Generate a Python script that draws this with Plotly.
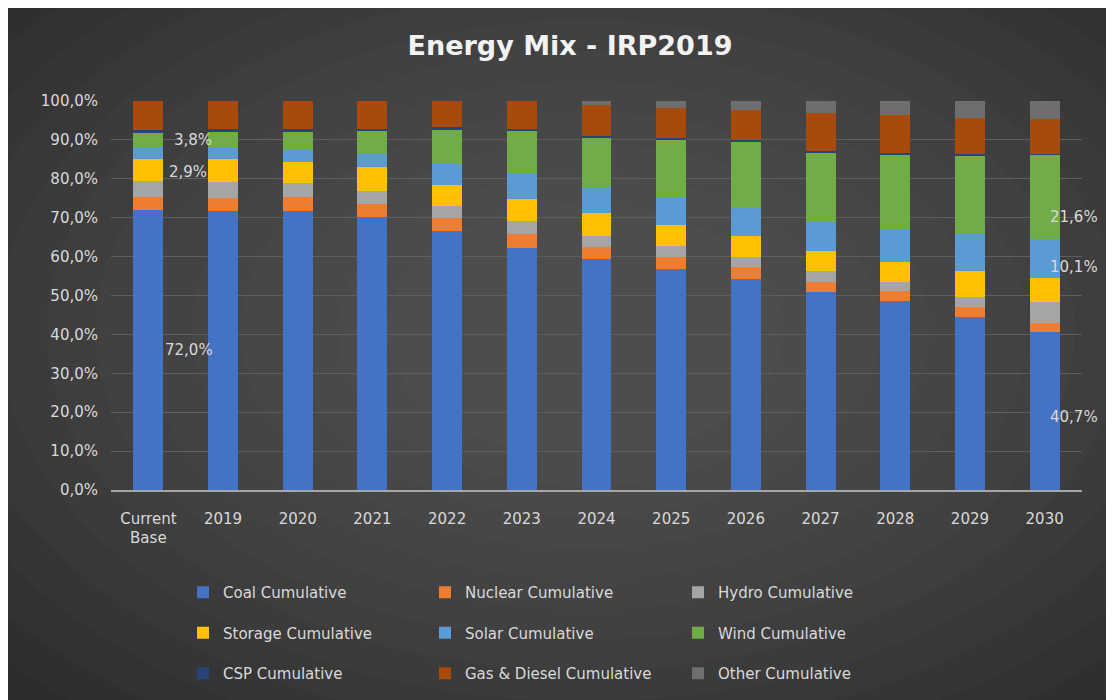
import plotly.graph_objects as go

# ---------------- data (percent of installed capacity) ----------------
categories = ["Current Base", "2019", "2020", "2021", "2022", "2023", "2024",
              "2025", "2026", "2027", "2028", "2029", "2030"]

coal    = [72.0, 71.7, 71.6, 70.2, 66.5, 62.2, 59.5, 56.7, 54.3, 50.9, 48.7, 44.4, 40.7]
nuclear = [3.4, 3.4, 3.6, 3.4, 3.3, 3.5, 2.9, 3.1, 3.1, 2.7, 2.4, 2.6, 2.3]
hydro   = [4.0, 4.1, 3.7, 3.2, 3.3, 3.4, 2.8, 2.9, 2.4, 2.6, 2.5, 2.5, 5.3]
storage = [5.8, 5.8, 5.5, 6.2, 5.3, 5.6, 6.0, 5.4, 5.5, 5.2, 5.0, 6.7, 6.2]
solar   = [2.9, 2.8, 3.1, 3.3, 5.5, 6.8, 6.7, 7.2, 7.3, 7.4, 8.4, 9.5, 10.1]
wind    = [3.8, 4.4, 4.7, 6.0, 8.9, 10.9, 12.7, 14.7, 17.0, 17.9, 19.3, 20.4, 21.6]
csp     = [0.6, 0.5, 0.5, 0.5, 0.4, 0.4, 0.4, 0.4, 0.4, 0.4, 0.3, 0.3, 0.3]
gas     = [7.5, 7.3, 7.3, 7.2, 6.8, 7.2, 8.0, 7.9, 7.6, 9.9, 9.8, 9.3, 8.8]
other   = [0.0, 0.0, 0.0, 0.0, 0.0, 0.0, 1.0, 1.7, 2.4, 3.0, 3.6, 4.3, 4.7]

series_names = ["Coal Cumulative", "Nuclear Cumulative", "Hydro Cumulative",
                "Storage Cumulative", "Solar Cumulative", "Wind Cumulative",
                "CSP Cumulative", "Gas & Diesel Cumulative", "Other Cumulative"]
series_values = [coal, nuclear, hydro, storage, solar, wind, csp, gas, other]
series_colors = ["#4472C4", "#ED7D31", "#A5A5A5", "#FFC000", "#5B9BD5",
                 "#70AD47", "#264478", "#A8490D", "#6E6E6E"]

tick_text = [c.replace(" ", "<br>") for c in categories]

# data labels: (series index, category index, xshift, yshift)
label_specs = [(0, 0, 15, 0), (4, 0, 19, -19), (5, 0, 24, 0),
               (0, 12, 3, -6), (4, 12, 3, -9), (5, 12, 3, -20)]

# ---------------- layout geometry ----------------
# the page body adds an 8px white margin at top/left
OFF = 8
W, H = 1114 - OFF, 700 - OFF
L, R, T, B = 111 - OFF, 32, 101 - OFF, 210
PW, PH = W - L - R, H - T - B


def px_x(px):  # page pixel -> paper x
    return (px - OFF - L) / PW


def px_y(py):  # page pixel -> paper y
    return (H - B - (py - OFF)) / PH


FONT = "DejaVu Sans"
TXT = "#D9D9D9"

fig = go.Figure()
legends = ["legend", "legend2", "legend3"]
for i, (name, vals, col) in enumerate(zip(series_names, series_values, series_colors)):
    fig.add_trace(go.Bar(
        x=categories, y=[v / 100 for v in vals], name=name,
        marker=dict(color=col, line=dict(width=0)),
        legend=legends[i % 3], legendgroup=name,
        hovertemplate="%{x}: %{y:.1%}<extra>" + name + "</extra>",
    ))

# data label annotations (x given as category index)
for s, c, xs, ys in label_specs:
    below = sum(series_values[k][c] for k in range(s))
    v = series_values[s][c]
    mid = (below + v / 2) / 100
    fig.add_annotation(
        x=c, y=mid, xref="x", yref="y",
        text=f"{v:.1f}".replace(".", ",") + "%",
        showarrow=False, xanchor="left", yanchor="middle",
        xshift=xs, yshift=ys,
        font=dict(family=FONT, size=15, color=TXT),
    )

# background: dark panel with radial lightening
shapes = [dict(type="rect", xref="paper", yref="paper", layer="below",
               x0=px_x(OFF - 2), x1=px_x(1120), y0=px_y(OFF - 2), y1=px_y(710),
               fillcolor="#292929", line=dict(width=0))]
cx, cy = 585, 330
n = 14
for k in range(n):
    f = 1 - k / n
    rx, ry = 150 + 680 * f, 95 + 430 * f
    shapes.append(dict(type="circle", xref="paper", yref="paper", layer="below",
                       x0=px_x(cx - rx), x1=px_x(cx + rx),
                       y0=px_y(cy + ry), y1=px_y(cy - ry),
                       fillcolor="rgba(255,255,255,0.014)", line=dict(width=0)))

legend_common = dict(orientation="v", yanchor="top", xanchor="left",
                     y=px_y(576), bgcolor="rgba(0,0,0,0)",
                     font=dict(family=FONT, size=15, color=TXT),
                     traceorder="grouped", tracegroupgap=18)

fig.update_layout(
    width=W, height=H,
    margin=dict(l=L, r=R, t=T, b=B, pad=0, autoexpand=False),
    paper_bgcolor="white", plot_bgcolor="rgba(0,0,0,0)",
    separators=",.",
    barmode="stack", bargap=0.6,
    shapes=shapes,
    title=dict(text="<b>Energy Mix - IRP2019</b>", x=(570 - OFF) / W, xref="container",
               xanchor="center", y=1 - (46 - OFF) / H, yref="container", yanchor="middle",
               font=dict(family=FONT, size=27, color="#F2F2F2")),
    xaxis=dict(type="category", tickvals=categories, ticktext=tick_text,
               range=[-0.5, len(categories) - 0.5], automargin=False,
               showgrid=False, showline=True, linecolor="#A6A6A6", linewidth=1.5,
               ticks="", ticklabelstandoff=14, tickangle=0,
               tickfont=dict(family=FONT, size=15, color=TXT)),
    yaxis=dict(range=[0, 1], tickvals=[i / 10 for i in range(11)], automargin=False,
               tickformat=".1%", showgrid=True, gridcolor="#5E5E5E", gridwidth=1,
               zeroline=False, showline=False, ticks="", ticklabelstandoff=12,
               tickfont=dict(family=FONT, size=15, color=TXT)),
    legend=dict(x=px_x(183), **legend_common),
    legend2=dict(x=px_x(425), **legend_common),
    legend3=dict(x=px_x(678), **legend_common),
    showlegend=True,
)

fig.write_html("out.html")
